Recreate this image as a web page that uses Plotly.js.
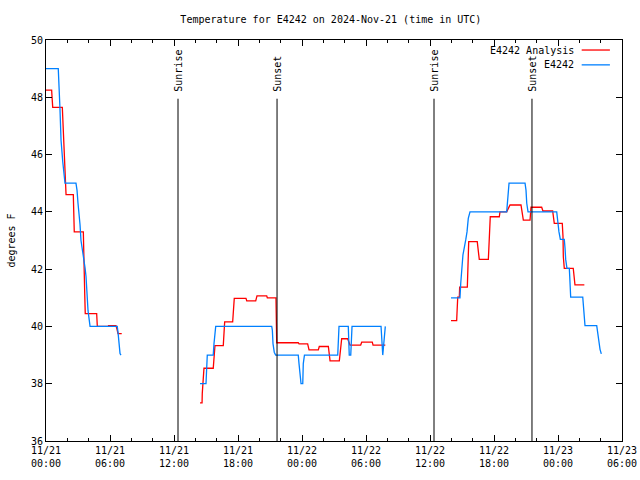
<!DOCTYPE html>
<html>
<head>
<meta charset="utf-8">
<script src="https://cdn.plot.ly/plotly-3.0.1.min.js"></script>
<style>html,body{margin:0;padding:0;background:#fff;}#chart{width:640px;height:480px;}</style>
</head>
<body>
<div id="chart"></div>
<script>
// time axis: hours since 2024-11-21 00:00 UTC
const tickHours = [0, 6, 12, 18, 24, 30, 36, 42, 48, 54];
const tickLabels = ["11/21<br>00:00","11/21<br>06:00","11/21<br>12:00","11/21<br>18:00","11/22<br>00:00","11/22<br>06:00","11/22<br>12:00","11/22<br>18:00","11/23<br>00:00","11/23<br>06:00"];

// E4242 observations (null = gap)
const obsHours = [
  0, 1.15, 1.31, 1.41, 1.57, 1.69, 1.78, 2.81, 2.91, 3.0, 3.09, 3.19, 3.28, 3.44, 3.56, 3.66, 3.75, 3.94, 4.13, 6.68, 6.75, 6.84, 6.94, 7.03,
  null,
  14.44, 15.0, 15.12, 15.68, 15.75, 15.91, 21.16, 21.22, 21.28, 21.40, 21.53, 23.65, 23.72, 23.81, 23.91, 24.07, 24.12, 24.23, 27.35, 27.47, 28.34, 28.43, 28.57, 28.69, 31.41, 31.57, 31.73, 31.81,
  null,
  37.97, 38.81, 38.88, 38.97, 39.09, 39.35, 39.47, 39.59, 39.75, 43.19, 43.25, 43.31, 43.41, 44.91, 45.0, 45.07, 45.19, 47.88, 47.93, 48.0, 48.09, 48.22, 48.59, 48.66, 48.72, 48.84, 49.06, 49.10, 49.13, 49.19, 50.32, 50.37, 50.44, 50.53, 51.63, 51.72, 51.84, 51.94, 52.06
];
const obsTemps = [
  49.0, 49.0, 47.6, 46.5, 45.75, 45.3, 45.0, 45.0, 44.75, 44.3, 44.0, 43.55, 43.0, 42.65, 42.25, 42.05, 41.75, 40.55, 40.0, 40.0, 39.8, 39.4, 39.05, 39.0,
  null,
  38.0, 38.0, 39.0, 39.0, 39.4, 40.0, 40.0, 39.87, 39.4, 39.1, 39.0, 39.0, 38.7, 38.35, 38.0, 38.0, 38.7, 39.0, 39.0, 40.0, 40.0, 39.0, 39.0, 40.0, 40.0, 39.0, 39.8, 40.0,
  null,
  41.0, 41.0, 41.5, 42.03, 42.5, 43.02, 43.3, 43.77, 44.0, 44.0, 44.3, 44.76, 45.0, 45.0, 44.76, 44.3, 44.0, 44.0, 43.8, 43.6, 43.3, 43.04, 43.04, 42.73, 42.34, 42.03, 42.03, 41.74, 41.33, 41.02, 41.02, 40.7, 40.28, 40.03, 40.03, 39.76, 39.41, 39.2, 39.04
];

// E4242 Analysis (null = gap)
const anaHours = [
  0, 0.53, 0.56, 0.63, 1.53, 1.57, 1.69, 1.78, 1.88, 2.56, 2.60, 2.65, 3.50, 3.56, 3.59, 3.63, 3.68, 4.75, 4.81, 5.84, 5.86, 6.56, 6.66, 6.75, 7.10,
  null,
  14.44, 14.63, 14.65, 14.72, 14.81, 15.68, 15.75, 15.84, 16.62, 16.69, 16.75, 17.50, 17.53, 17.65, 18.75, 18.82, 19.66, 19.78, 20.69, 20.75, 21.56, 21.63, 23.65, 23.72, 24.53, 24.66, 25.53, 25.62, 26.47, 26.63, 27.50, 27.72, 28.28, 28.5, 29.50, 29.60, 30.59, 30.66, 31.81,
  null,
  37.97, 38.50, 38.53, 38.60, 38.75, 38.78, 39.50, 39.53, 39.63, 40.43, 40.5, 40.57, 40.62, 41.47, 41.53, 41.60, 41.65, 42.50, 42.56, 43.19, 43.25, 43.5, 44.53, 44.63, 44.75, 45.38, 45.47, 46.47, 46.59, 47.50, 47.56, 47.65, 48.40, 48.47, 48.50, 48.59, 49.43, 49.5, 49.59, 50.47
];
const anaTemps = [
  48.25, 48.25, 48.05, 47.65, 47.65, 47.27, 46.5, 45.75, 44.6, 44.6, 43.97, 43.3, 43.3, 42.65, 42.25, 41.15, 40.45, 40.45, 40.0, 40.0, 40.03, 40.03, 39.9, 39.75, 39.75,
  null,
  37.33, 37.33, 37.66, 38.22, 38.54, 38.54, 38.83, 39.33, 39.33, 39.7, 40.16, 40.16, 40.45, 40.98, 40.98, 40.89, 40.89, 41.07, 41.07, 41.0, 41.0, 39.43, 39.43, 39.39, 39.39, 39.18, 39.18, 39.3, 39.3, 38.8, 38.8, 39.57, 39.57, 39.35, 39.35, 39.45, 39.45, 39.35, 39.35,
  null,
  40.2, 40.2, 40.46, 41.02, 41.02, 41.37, 41.37, 42.14, 42.96, 42.96, 42.78, 42.5, 42.34, 42.34, 42.73, 43.48, 43.83, 43.83, 44.0, 44.0, 44.06, 44.24, 44.24, 43.97, 43.71, 43.71, 44.16, 44.16, 44.03, 44.03, 43.89, 43.6, 43.6, 43.13, 42.43, 42.03, 42.03, 41.76, 41.45, 41.45
];

// sun events (hours since start)
const sunHours = [12.375, 21.66, 36.375, 45.56];
const sunLabels = ["Sunrise", "Sunset", "Sunrise", "Sunset"];

const seriesNames = ["E4242 Analysis", "E4242"];
const seriesColors = ["#ff0000", "#0080ff"];

const FONT = "DejaVu Sans Mono, Liberation Mono, monospace";

const traces = [
  {x: anaHours, y: anaTemps, name: seriesNames[0], type: "scatter", mode: "lines",
   line: {color: seriesColors[0], width: 1.3}, connectgaps: false, hoverinfo: "skip"},
  {x: obsHours, y: obsTemps, name: seriesNames[1], type: "scatter", mode: "lines",
   line: {color: seriesColors[1], width: 1.3}, connectgaps: false, hoverinfo: "skip"}
];

const shapes = [];
const annotations = [];
sunHours.forEach((h, i) => {
  shapes.push({type: "line", xref: "x", yref: "y", x0: h, x1: h, y0: 36, y1: 47.95,
    line: {color: "#000", width: 1}});
  annotations.push({x: h, y: 47.95, xref: "x", yref: "y", text: sunLabels[i], textangle: -90,
    showarrow: false, xanchor: "center", yanchor: "bottom", yshift: 5, xshift: 1,
    font: {family: FONT, size: 10, color: "#000"}});
});

// manual legend (text left of sample line)
seriesNames.forEach((nm, i) => {
  const yp = 0.975 - i * 0.037;
  annotations.push({x: 0.921, y: yp, xref: "paper", yref: "paper", text: nm, showarrow: false,
    xanchor: "right", yanchor: "middle", font: {family: FONT, size: 10, color: "#000"}});
  shapes.push({type: "line", xref: "paper", yref: "paper", x0: 0.93, x1: 0.979, y0: yp, y1: yp,
    line: {color: seriesColors[i], width: 1.3}});
});

const layout = {
  width: 640, height: 480,
  margin: {l: 46, r: 18, t: 40, b: 39},
  paper_bgcolor: "#fff", plot_bgcolor: "#fff",
  showlegend: false,
  font: {family: FONT, size: 10, color: "#000"},
  title: {text: "Temperature for E4242 on 2024-Nov-21 (time in UTC)", x: 0.517, xanchor: "center", y: 0.96, yanchor: "middle",
    font: {family: FONT, size: 10, color: "#000"}},
  xaxis: {
    range: [0, 54], tickmode: "array", tickvals: tickHours, ticktext: tickLabels,
    ticks: "inside", ticklen: 6, tickwidth: 1, tickcolor: "#000",
    minor: {dtick: 2, tick0: 0, ticks: "inside", ticklen: 3, tickcolor: "#000", showgrid: false},
    showline: true, linecolor: "#000", linewidth: 1, mirror: "ticks",
    showgrid: false, zeroline: false, tickfont: {family: FONT, size: 10, color: "#000"}
  },
  yaxis: {
    range: [36, 50], dtick: 2, tick0: 36,
    ticks: "inside", ticklen: 6, tickwidth: 1, tickcolor: "#000",
    showline: true, linecolor: "#000", linewidth: 1, mirror: "ticks",
    showgrid: false, zeroline: false, tickfont: {family: FONT, size: 10, color: "#000"},
    title: {text: "degrees F", standoff: 13, font: {family: FONT, size: 10, color: "#000"}}
  },
  shapes: shapes,
  annotations: annotations
};

Plotly.newPlot("chart", traces, layout, {staticPlot: true, displayModeBar: false});
</script>
</body>
</html>
